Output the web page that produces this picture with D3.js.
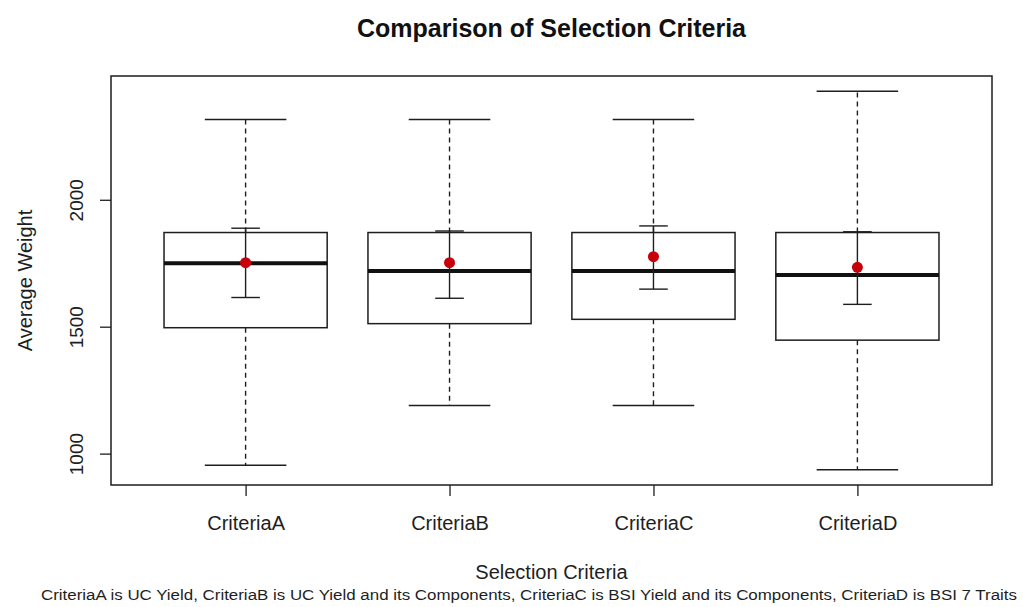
<!DOCTYPE html>
<html><head><meta charset="utf-8">
<script src="https://cdn.jsdelivr.net/npm/d3@7"></script>
<style>body{margin:0;background:#fff}svg{display:block;font-family:"Liberation Sans",Arial,sans-serif}</style>
</head><body><svg id="c" width="1023" height="607"></svg>
<script>
const categories = ["CriteriaA","CriteriaB","CriteriaC","CriteriaD"];
const whiskerLow  = [954, 1190, 1190, 936];
const q1          = [1496, 1512, 1529, 1447];
const median      = [1750, 1719, 1719, 1704];
const q3          = [1871, 1871, 1871, 1871];
const whiskerHigh = [2316, 2316, 2316, 2428];
const meanVals    = [1752, 1752, 1776, 1734];
const errLow      = [1615, 1612, 1648, 1588];
const errHigh     = [1888, 1877, 1897, 1874];
const yTicks = [1000, 1500, 2000];
const title = "Comparison of Selection Criteria";
const xTitle = "Selection Criteria";
const yTitle = "Average Weight";
const caption = "CriteriaA is UC Yield, CriteriaB is UC Yield and its Components, CriteriaC is BSI Yield and its Components, CriteriaD is BSI 7 Traits";

const svg = d3.select("#c");
const L = 111, R = 992, T = 76, B = 485;
const n = categories.length;
const x = d3.scaleLinear().domain([0.5 - 0.04*n, n + 0.5 + 0.04*n]).range([L, R]);
const lo = d3.min(whiskerLow), hi = d3.max(whiskerHigh), pad = (hi - lo) * 0.04;
const y = d3.scaleLinear().domain([lo - pad, hi + pad]).range([B, T]);
const ink = "#1e1e1e";

const data = categories.map((c, i) => ({c, i: i + 1, wl: whiskerLow[i], q1: q1[i], md: median[i], q3: q3[i], wh: whiskerHigh[i], mn: meanVals[i], el: errLow[i], eh: errHigh[i]}));
const bw = 0.4, sw = 0.2, ew = 0.07;

const g = svg.append("g");
g.selectAll(".wl").data(data).join("line")
  .attr("x1", d => x(d.i)).attr("x2", d => x(d.i)).attr("y1", d => y(d.q1)).attr("y2", d => y(d.wl))
  .attr("stroke", ink).attr("stroke-width", 1.4).attr("stroke-dasharray", "5,4");
g.selectAll(".wh").data(data).join("line")
  .attr("x1", d => x(d.i)).attr("x2", d => x(d.i)).attr("y1", d => y(d.q3)).attr("y2", d => y(d.wh))
  .attr("stroke", ink).attr("stroke-width", 1.4).attr("stroke-dasharray", "5,4");
["wl","wh"].forEach(k => {
  g.selectAll(".s"+k).data(data).join("line")
    .attr("x1", d => x(d.i - sw)).attr("x2", d => x(d.i + sw)).attr("y1", d => y(d[k])).attr("y2", d => y(d[k]))
    .attr("stroke", ink).attr("stroke-width", 1.5);
});
g.selectAll(".box").data(data).join("rect")
  .attr("x", d => x(d.i - bw)).attr("width", d => x(d.i + bw) - x(d.i - bw))
  .attr("y", d => y(d.q3)).attr("height", d => y(d.q1) - y(d.q3))
  .attr("fill", "none").attr("stroke", ink).attr("stroke-width", 1.5);
g.selectAll(".md").data(data).join("line")
  .attr("x1", d => x(d.i - bw)).attr("x2", d => x(d.i + bw)).attr("y1", d => y(d.md)).attr("y2", d => y(d.md))
  .attr("stroke", "#111").attr("stroke-width", 4);
g.selectAll(".ev").data(data).join("line")
  .attr("x1", d => x(d.i)).attr("x2", d => x(d.i)).attr("y1", d => y(d.el)).attr("y2", d => y(d.eh))
  .attr("stroke", ink).attr("stroke-width", 1.4);
["el","eh"].forEach(k => {
  g.selectAll(".c"+k).data(data).join("line")
    .attr("x1", d => x(d.i - ew)).attr("x2", d => x(d.i + ew)).attr("y1", d => y(d[k])).attr("y2", d => y(d[k]))
    .attr("stroke", ink).attr("stroke-width", 1.4);
});
g.selectAll(".mn").data(data).join("circle")
  .attr("cx", d => x(d.i)).attr("cy", d => y(d.mn)).attr("r", 5.5)
  .attr("fill", "#c8000a");

svg.append("rect").attr("x", L).attr("y", T).attr("width", R - L).attr("height", B - T)
  .attr("fill", "none").attr("stroke", ink).attr("stroke-width", 1.5);

const yAxis = d3.axisLeft(y).tickValues(yTicks).tickSize(11).tickFormat(d3.format("d"));
const ya = svg.append("g").attr("transform", `translate(${L},0)`).call(yAxis);
ya.select(".domain").remove();
ya.selectAll("line").attr("stroke", ink).attr("stroke-width", 1.3);
ya.selectAll("text").attr("transform", `translate(${83 - L},0) rotate(-90)`)
  .attr("x", 0).attr("y", 0).attr("dy", 0).attr("text-anchor", "middle")
  .attr("font-size", 19).attr("fill", ink).style("font-family", "Liberation Sans, Arial, sans-serif");

const xa = svg.append("g").attr("transform", `translate(0,${B})`)
  .call(d3.axisBottom(x).tickValues(data.map(d => d.i)).tickSize(11).tickFormat(v => categories[v - 1]));
xa.select(".domain").remove();
xa.selectAll("line").attr("stroke", ink).attr("stroke-width", 1.3);
xa.selectAll("text").attr("y", 45).attr("dy", 0).attr("font-size", 20).attr("fill", ink)
  .style("font-family", "Liberation Sans, Arial, sans-serif");

const cx = (L + R) / 2;
svg.append("text").attr("x", cx).attr("y", 37).attr("text-anchor", "middle")
  .attr("font-size", 25).attr("font-weight", "bold").attr("fill", "#111").text(title);
svg.append("text").attr("x", cx).attr("y", 579).attr("text-anchor", "middle")
  .attr("font-size", 20).attr("fill", ink).text(xTitle);
svg.append("text").attr("transform", `translate(32,${(T + B) / 2}) rotate(-90)`).attr("text-anchor", "middle")
  .attr("font-size", 20).attr("fill", ink).text(yTitle);
svg.append("text").attr("x", 529).attr("y", 600).attr("text-anchor", "middle")
  .attr("font-size", 14).attr("textLength", 976).attr("lengthAdjust", "spacingAndGlyphs")
  .attr("fill", ink).text(caption);
</script></body></html>
